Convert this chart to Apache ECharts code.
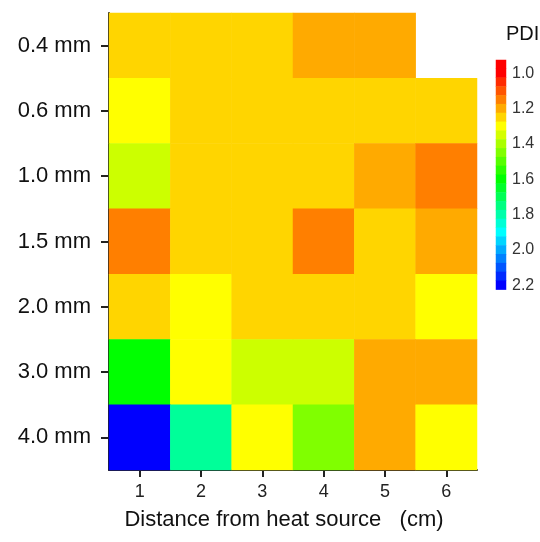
<!DOCTYPE html>
<html>
<head>
<meta charset="utf-8">
<script src="https://cdn.jsdelivr.net/npm/echarts@6/dist/echarts.min.js"></script>
<style>
  html, body { margin: 0; padding: 0; background: #fff; }
  #chart { width: 540px; height: 542px; }
</style>
</head>
<body>
<div id="chart"></div>
<script>
// Distance from the heat source (cm) along the x axis
const distances = ['1', '2', '3', '4', '5', '6'];
// Layer thickness along the y axis, top to bottom
const thicknesses = ['0.4 mm', '0.6 mm', '1.0 mm', '1.5 mm', '2.0 mm', '3.0 mm', '4.0 mm'];

// PDI per thickness, one value per distance (null = not measured)
const pdi04 = [1.25, 1.25, 1.25, 1.20, 1.20, null];
const pdi06 = [1.30, 1.25, 1.25, 1.25, 1.25, 1.25];
const pdi10 = [1.36, 1.25, 1.25, 1.25, 1.20, 1.15];
const pdi15 = [1.15, 1.25, 1.25, 1.15, 1.25, 1.20];
const pdi20 = [1.25, 1.30, 1.25, 1.25, 1.25, 1.30];
const pdi30 = [1.60, 1.30, 1.36, 1.36, 1.20, 1.20];
const pdi40 = [2.20, 1.78, 1.30, 1.45, 1.20, 1.30];

// Colour bar steps and its tick labels
const colorbarSteps = [0.95, 1.00, 1.05, 1.10, 1.15, 1.20, 1.25, 1.30, 1.35, 1.40, 1.45, 1.50, 1.55,
                       1.60, 1.65, 1.70, 1.75, 1.80, 1.85, 1.90, 1.95, 2.00, 2.05, 2.10, 2.15, 2.20];
const colorbarTicks = ['1.0', '1.2', '1.4', '1.6', '1.8', '2.0', '2.2'];

const pdiRows = [pdi04, pdi06, pdi10, pdi15, pdi20, pdi30, pdi40];

// Rainbow scale: red at 1.0 through to blue at 2.2
const vMin = 0.95, vMax = 2.2;
function hueColor(h) {
  h = Math.max(0, Math.min(240, h));
  const f = (n) => {
    const k = (n + h / 60) % 6;
    return Math.round(255 * (1 - Math.max(0, Math.min(k, 4 - k, 1))));
  };
  const hex = (c) => c.toString(16).padStart(2, '0');
  return '#' + hex(f(5)) + hex(f(3)) + hex(f(1));
}
const rampColors = [];
for (let i = 0; i <= 25; i++) {
  const v = vMin + i * 0.05;
  rampColors.push(hueColor((v - 1.0) / 1.2 * 240));
}

const heatData = [];
pdiRows.forEach((row, yi) => {
  row.forEach((v, xi) => {
    if (v !== null) heatData.push([xi, yi, v]);
  });
});

const barCategories = colorbarSteps.map(v => v.toFixed(2));
const barData = colorbarSteps.map((v, i) => [0, i, v]);

const font = '"Liberation Sans", Arial, sans-serif';

const chart = echarts.init(document.getElementById('chart'), null, { renderer: 'canvas' });
chart.setOption({
  animation: false,
  backgroundColor: '#fff',
  title: {
    text: 'PDI',
    left: 501,
    top: 19,
    textStyle: { fontFamily: font, fontSize: 20, fontWeight: 'normal', color: '#111' }
  },
  grid: [
    { left: 109, top: 13, width: 368, height: 457 },
    { left: 496, top: 60, width: 10, height: 229.6 }
  ],
  xAxis: [
    {
      type: 'category',
      gridIndex: 0,
      data: distances,
      name: 'Distance from heat source   (cm)',
      nameLocation: 'middle',
      nameGap: 39,
      nameTextStyle: { fontFamily: font, fontSize: 22, color: '#111', padding: [0, 18, 0, 0] },
      axisLine: { show: true, lineStyle: { color: '#222', width: 2 } },
      axisTick: { show: true, alignWithLabel: true, length: 7, lineStyle: { color: '#222', width: 2 } },
      axisLabel: { fontFamily: font, fontSize: 18, color: '#222', margin: 13 },
      splitLine: { show: false }
    },
    {
      type: 'category',
      gridIndex: 1,
      data: [''],
      show: false
    }
  ],
  yAxis: [
    {
      type: 'category',
      gridIndex: 0,
      data: thicknesses,
      inverse: true,
      axisLine: { show: true, lineStyle: { color: '#222', width: 2 } },
      axisTick: { show: true, alignWithLabel: true, length: 8, lineStyle: { color: '#222', width: 2 } },
      axisLabel: { fontFamily: font, fontSize: 22, color: '#111', margin: 18 },
      splitLine: { show: false }
    },
    {
      type: 'category',
      gridIndex: 1,
      data: barCategories,
      inverse: true,
      position: 'right',
      axisLine: { show: false },
      axisTick: { show: false },
      axisLabel: {
        interval: 0,
        margin: 6,
        fontFamily: font,
        fontSize: 16,
        color: '#333',
        formatter: (v) => {
          const s = v.replace(/0$/, '');
          return colorbarTicks.includes(s) ? s : '';
        }
      },
      splitLine: { show: false }
    }
  ],
  visualMap: {
    type: 'continuous',
    show: false,
    min: vMin,
    max: vMax,
    seriesIndex: [0, 1],
    inRange: { color: rampColors }
  },
  series: [
    {
      type: 'heatmap',
      xAxisIndex: 0,
      yAxisIndex: 0,
      data: heatData,
      itemStyle: { borderWidth: 0 },
      emphasis: { disabled: true },
      progressive: 0
    },
    {
      type: 'heatmap',
      xAxisIndex: 1,
      yAxisIndex: 1,
      data: barData,
      itemStyle: { borderWidth: 0 },
      emphasis: { disabled: true },
      progressive: 0
    }
  ]
});
</script>
</body>
</html>
